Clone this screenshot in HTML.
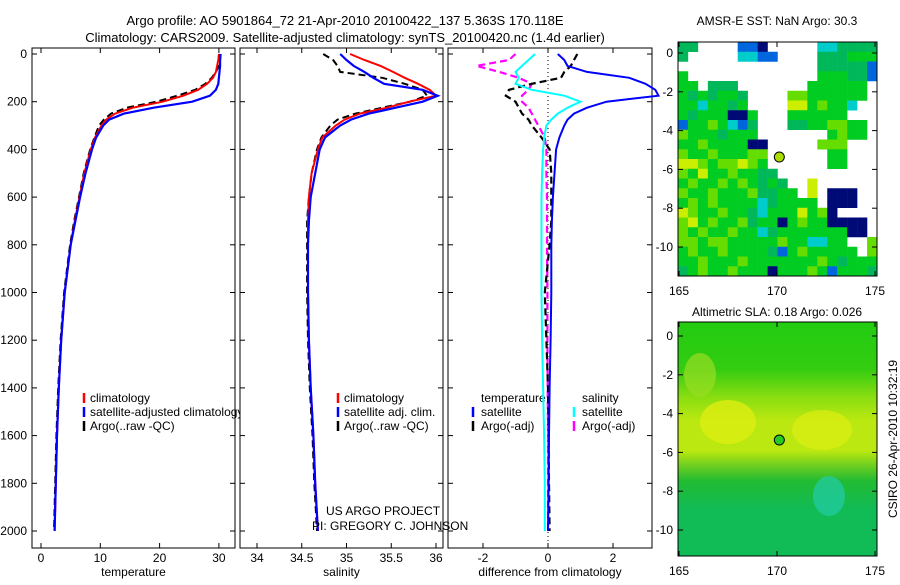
<!DOCTYPE html>
<html><head><meta charset="utf-8"><style>
body{margin:0;background:#fff;width:900px;height:580px;overflow:hidden}
svg{font-family:"Liberation Sans",sans-serif}
</style></head><body>
<svg id="s" width="900" height="580">
<text x="345" y="25" font-size="13" text-anchor="middle">Argo profile: AO 5901864_72 21-Apr-2010 20100422_137 5.363S 170.118E</text>
<text x="345" y="42" font-size="13" text-anchor="middle">Climatology: CARS2009. Satellite-adjusted climatology: synTS_20100420.nc (1.4d earlier)</text>
<text x="777" y="25" font-size="12" text-anchor="middle">AMSR-E SST: NaN Argo: 30.3</text>
<text x="777" y="316" font-size="12" text-anchor="middle">Altimetric SLA: 0.18 Argo: 0.026</text>
<text transform="translate(897,439) rotate(-90)" font-size="12" text-anchor="middle">CSIRO 26-Apr-2010 10:32:19</text>
<g id="g"></g>
</svg>
<script>
const depths=[0,25,50,75,100,125,150,175,200,225,250,275,300,350,400,500,600,700,800,1000,1200,1400,1600,1800,2000];
const tempClim=[30.0,29.9,29.7,29.5,29.0,28.0,26.5,24,20.5,15.5,12.5,11,10.2,9.1,8.4,7.3,6.5,5.7,5.0,4.0,3.4,3.0,2.7,2.5,2.3];
const tempSat=[30.2,30.2,30.2,30.1,30.0,29.9,29.5,28.5,25.5,19,14,11.5,10.5,9.3,8.6,7.5,6.6,5.8,5.0,4.0,3.4,3.0,2.7,2.5,2.3];
const tempArgo=[30.3,30.2,30.0,29.5,28.8,27.7,26,23,19.5,14.5,11.8,10.6,9.8,9,8.3,7.2,6.4,5.6,4.9,3.9,3.3,2.9,2.6,2.4,2.2];
const salClim=[35.04,35.2,35.38,35.52,35.65,35.8,35.93,36.0,35.7,35.45,35.15,34.98,34.88,34.73,34.68,34.61,34.58,34.57,34.57,34.57,34.58,34.6,34.63,34.65,34.68];
const salSat=[34.93,35.0,35.08,35.2,35.3,35.42,35.85,36.02,35.85,35.55,35.25,35.05,34.93,34.76,34.7,34.65,34.6,34.58,34.57,34.57,34.58,34.6,34.63,34.65,34.68];
const salArgo=[34.74,34.85,34.9,34.93,35.4,35.65,35.85,35.9,35.71,35.4,35.1,34.9,34.82,34.72,34.67,34.61,34.58,34.56,34.56,34.56,34.57,34.59,34.62,34.64,34.67];
const dTempSat=[0.3,0.5,0.6,1.2,2.5,3.0,3.3,3.4,1.8,1.2,0.8,0.6,0.5,0.35,0.25,0.2,0.15,0.12,0.1,0.1,0.08,0.05,0.03,0.02,0.0];
const dSalSat=[-0.4,-0.6,-0.8,-1.0,-0.9,-1.0,-0.5,0.5,1.0,0.6,0.3,0.1,-0.05,-0.12,-0.15,-0.18,-0.2,-0.2,-0.2,-0.2,-0.18,-0.15,-0.12,-0.1,-0.1];
const dTempArgo=[0.9,0.8,0.7,0.5,0.4,-0.5,-1.2,-1.3,-1.0,-0.9,-0.8,-0.6,-0.5,-0.2,0.05,0.1,0.1,0.1,0.05,-0.1,-0.05,0,0.02,0.03,0.05];
const dSalArgo=[-1.0,-1.2,-2.2,-1.5,-0.9,-0.5,-0.6,-0.8,-0.8,-0.6,-0.5,-0.4,-0.3,-0.1,-0.05,-0.05,-0.03,-0.03,-0.03,-0.02,-0.02,-0.01,0,0,0];
const depthTicks=[0,200,400,600,800,1000,1200,1400,1600,1800,2000];
const tempTicks=[0,10,20,30];
const salTicks=[34,34.5,35,35.5,36];
const diffTicks=[-2,0,2];
const lonTicks=[165,170,175];
const sstLatTicks=[0,-2,-4,-6,-8,-10];
const sstGrid=[
"TT....BBN.....CCTTTT","T.....CCBB....TTTGGG","..............TTTTTB","G.............GGGTTB",
"GG.TTT.......GGGGGG.","GTGTGGT....LLGGGGGG.","GGCGGTG....YYGLGGC..","GTGGGNNG...GGGGGG...",
"BGGLGCBT...TTGGLLGG.","LGGGTGGG.......GLGG.","GGLGGGGNN.....LLL...","LGGLGGGLL......GG...",
"YYLGLLYLG......GG...","LGYGGLGGTT..........","GLGGLGLGTGT..Y......","LGGLGGGLTTGG.Y.NNN..",
"GLGLGGGGCTGGGG.NNN..","YLGGLGGTCGGGYGLN....","LYGLGGLTGGNGLGGNNNN.","LGLGGLGGCTGGGGGGGNN.",
"LLGLLGGGGGLGGCCGG..L","GLGGLGGGGTBGLGGGGG.L","GGLGGGLGGGGGGGLGTGGG","TGLGGLGGGNGGGLGBGGGT"];
const NS='http://www.w3.org/2000/svg';
const G=document.getElementById('g');
function el(t,a,p){const e=document.createElementNS(NS,t);for(const k in a)e.setAttribute(k,a[k]);(p||G).appendChild(e);return e;}
const Y0=54,Y1=531;
const yD=d=>Y0+(Y1-Y0)*d/2000;
function panel(name,x0,x1,xs,ticks,fmt,label){
  const g=el('g',{});
  
  
  el('rect',{x:x0,y:48,width:x1-x0,height:500,fill:'#fff',stroke:'#000','stroke-width':1},g);
  ticks.forEach(t=>{const x=xs(t);
    el('line',{x1:x,x2:x,y1:48,y2:53,stroke:'#000'},g);el('line',{x1:x,x2:x,y1:548,y2:543,stroke:'#000'},g);
    const tx=el('text',{x:x,y:562,'font-size':12,'text-anchor':'middle'},g);tx.textContent=fmt(t);
    
    });
  depthTicks.forEach(d=>{const y=yD(d);
    el('line',{x1:x0,x2:x0+5,y1:y,y2:y,stroke:'#000'},g);el('line',{x1:x1,x2:x1-5,y1:y,y2:y,stroke:'#000'},g);});
  const lb=el('text',{x:(x0+x1)/2,y:576,'font-size':12,'text-anchor':'middle'},g);lb.textContent=label;
  
  
  return g;
}
function line(g,vals,xs,color,w,dash,name){
  const pts=vals.map((v,i)=>xs(v).toFixed(1)+','+yD(depths[i]).toFixed(1)).join(' ');
  const p=el('polyline',{points:pts,fill:'none',stroke:color,'stroke-width':w,'stroke-dasharray':dash||'none'},g);
  
  
}
function txt(g,x,y,s,name,size){const t=el('text',{x:x,y:y,'font-size':size||12},g);t.textContent=s;
  
  return t;}
function mark(g,x,y,c){el('line',{x1:x,x2:x,y1:y-10,y2:y,stroke:c,'stroke-width':2.5},g);}
// temperature
const xT=v=>41+5.93*v;
const gT=panel('temperature-panel',32,235,xT,tempTicks,t=>String(t),'temperature');
depthTicks.forEach(d=>{const t=el('text',{x:27,y:yD(d)+4,'font-size':12,'text-anchor':'end'});t.textContent=d;
  
  });
line(gT,tempArgo,xT,'#000',2,'7,4','argo-temp-line');
line(gT,tempClim,xT,'#f00',2,null,'clim-temp-line');
line(gT,tempSat,xT,'#00f',2.2,null,'sat-temp-line');
mark(gT,84,403,'#f00');txt(gT,90,402,'climatology','legend-climatology');
mark(gT,84,417,'#00f');txt(gT,90,416,'satellite-adjusted climatology','legend-satellite');
mark(gT,84,431,'#000');txt(gT,90,430,'Argo(..raw -QC)','legend-argo');
// salinity
const xS=v=>257+89.5*(v-34);
const gS=panel('salinity-panel',240,443,xS,salTicks,t=>String(t),'salinity');
line(gS,salArgo,xS,'#000',2,'7,4','argo-sal-line');
line(gS,salClim,xS,'#f00',2,null,'clim-sal-line');
line(gS,salSat,xS,'#00f',2.2,null,'sat-sal-line');
mark(gS,338,403,'#f00');txt(gS,344,402,'climatology','legend-climatology');
mark(gS,338,417,'#00f');txt(gS,344,416,'satellite adj. clim.','legend-satellite');
mark(gS,338,431,'#000');txt(gS,344,430,'Argo(..raw -QC)','legend-argo');
// difference
const xDf=v=>548+32.5*v;
const gD=panel('difference-panel',448,652,xDf,diffTicks,t=>String(t),'difference from climatology');
el('line',{x1:548,x2:548,y1:48,y2:548,stroke:'#000','stroke-dasharray':'1,3'},gD);
txt(gD,481,402,'temperature','legend-temperature');txt(gD,582,402,'salinity','legend-salinity');
mark(gD,473,417,'#00f');txt(gD,481,416,'satellite','legend-temp-satellite');
mark(gD,473,431,'#000');txt(gD,481,430,'Argo(-adj)','legend-temp-argo');
mark(gD,574,417,'#0ff');txt(gD,582,416,'satellite','legend-sal-satellite');
mark(gD,574,431,'#f0f');txt(gD,582,430,'Argo(-adj)','legend-sal-argo');
line(gD,dSalArgo,xDf,'#f0f',2.2,'7,4','argo-sal-diff-line');
line(gD,dTempArgo,xDf,'#000',2.2,'7,4','argo-temp-diff-line');
line(gD,dSalSat,xDf,'#0ff',2,null,'sat-sal-diff-line');
line(gD,dTempSat,xDf,'#00f',2,null,'sat-temp-diff-line');
txt(G,326,515,'US ARGO PROJECT','project-label');
txt(G,312,530,'PI: GREGORY C. JOHNSON','pi-label');
// maps
const mx=lon=>679+19.6*(lon-165);
function mapFrame(name){
  const g=el('g',{});
  
  
  return g;
}
function mapAxes(g,y0,latY){
  el('rect',{x:678,y:y0,width:199,height:234,fill:'none',stroke:'#000'},g);
  lonTicks.forEach(l=>{const x=mx(l);el('line',{x1:x,x2:x,y1:y0,y2:y0+5,stroke:'#000'},g);el('line',{x1:x,x2:x,y1:y0+234,y2:y0+229,stroke:'#000'},g);
    const t=el('text',{x:x,y:y0+253,'font-size':12,'text-anchor':'middle'},g);t.textContent=l;
    
    });
  sstLatTicks.forEach(l=>{const y=latY(l);el('line',{x1:678,x2:683,y1:y,y2:y,stroke:'#000'},g);el('line',{x1:877,x2:872,y1:y,y2:y,stroke:'#000'},g);
    const t=el('text',{x:673,y:y+4,'font-size':12,'text-anchor':'end'},g);t.textContent=l;
    
    });
}
const col={T:'#00b85a',G:'#00cc22',L:'#66dd00',Y:'#ccee00',B:'#0066dd',C:'#00cccc',N:'#000a77'};
const g1=mapFrame('sst-map');
const ly1=l=>53-19.4*l;
sstGrid.forEach((row,r)=>{for(let c=0;c<row.length;c++){const ch=row[c];if(ch==='.')continue;
  const cell=el('rect',{x:678+c*9.95,y:42+r*9.75,width:10.2,height:10,fill:col[ch]},g1);
  
  }});
el('circle',{cx:mx(170.118),cy:ly1(-5.363),r:5,fill:'#aadd00',stroke:'#000'},g1);
mapAxes(g1,42,ly1);
const g2=mapFrame('sla-map');
const ly2=l=>336-19.4*l;
const df=el('defs',{});
const lg=el('linearGradient',{id:'sla',x1:0,y1:0,x2:0,y2:1},df);
[[0,'#22cc11'],[0.2,'#33cc11'],[0.32,'#88dd11'],[0.42,'#bbe811'],[0.55,'#bbe811'],[0.62,'#66cc22'],[0.68,'#22bb33'],[0.8,'#11bb55'],[1,'#11bb55']].forEach(s=>el('stop',{offset:s[0],'stop-color':s[1]},lg));
el('rect',{x:678,y:322,width:199,height:234,fill:'url(#sla)'},g2);
el('ellipse',{cx:700,cy:375,rx:16,ry:22,fill:'#99dd22',opacity:0.7},g2);
el('ellipse',{cx:728,cy:422,rx:28,ry:22,fill:'#ddee11',opacity:0.8},g2);
el('ellipse',{cx:822,cy:430,rx:30,ry:20,fill:'#ddee11',opacity:0.7},g2);
el('ellipse',{cx:829,cy:496,rx:16,ry:20,fill:'#22ccaa',opacity:0.7},g2);
el('circle',{cx:mx(170.118),cy:ly2(-5.363),r:5,fill:'#22cc22',stroke:'#000'},g2);
mapAxes(g2,322,ly2);
</script>
</body></html>
